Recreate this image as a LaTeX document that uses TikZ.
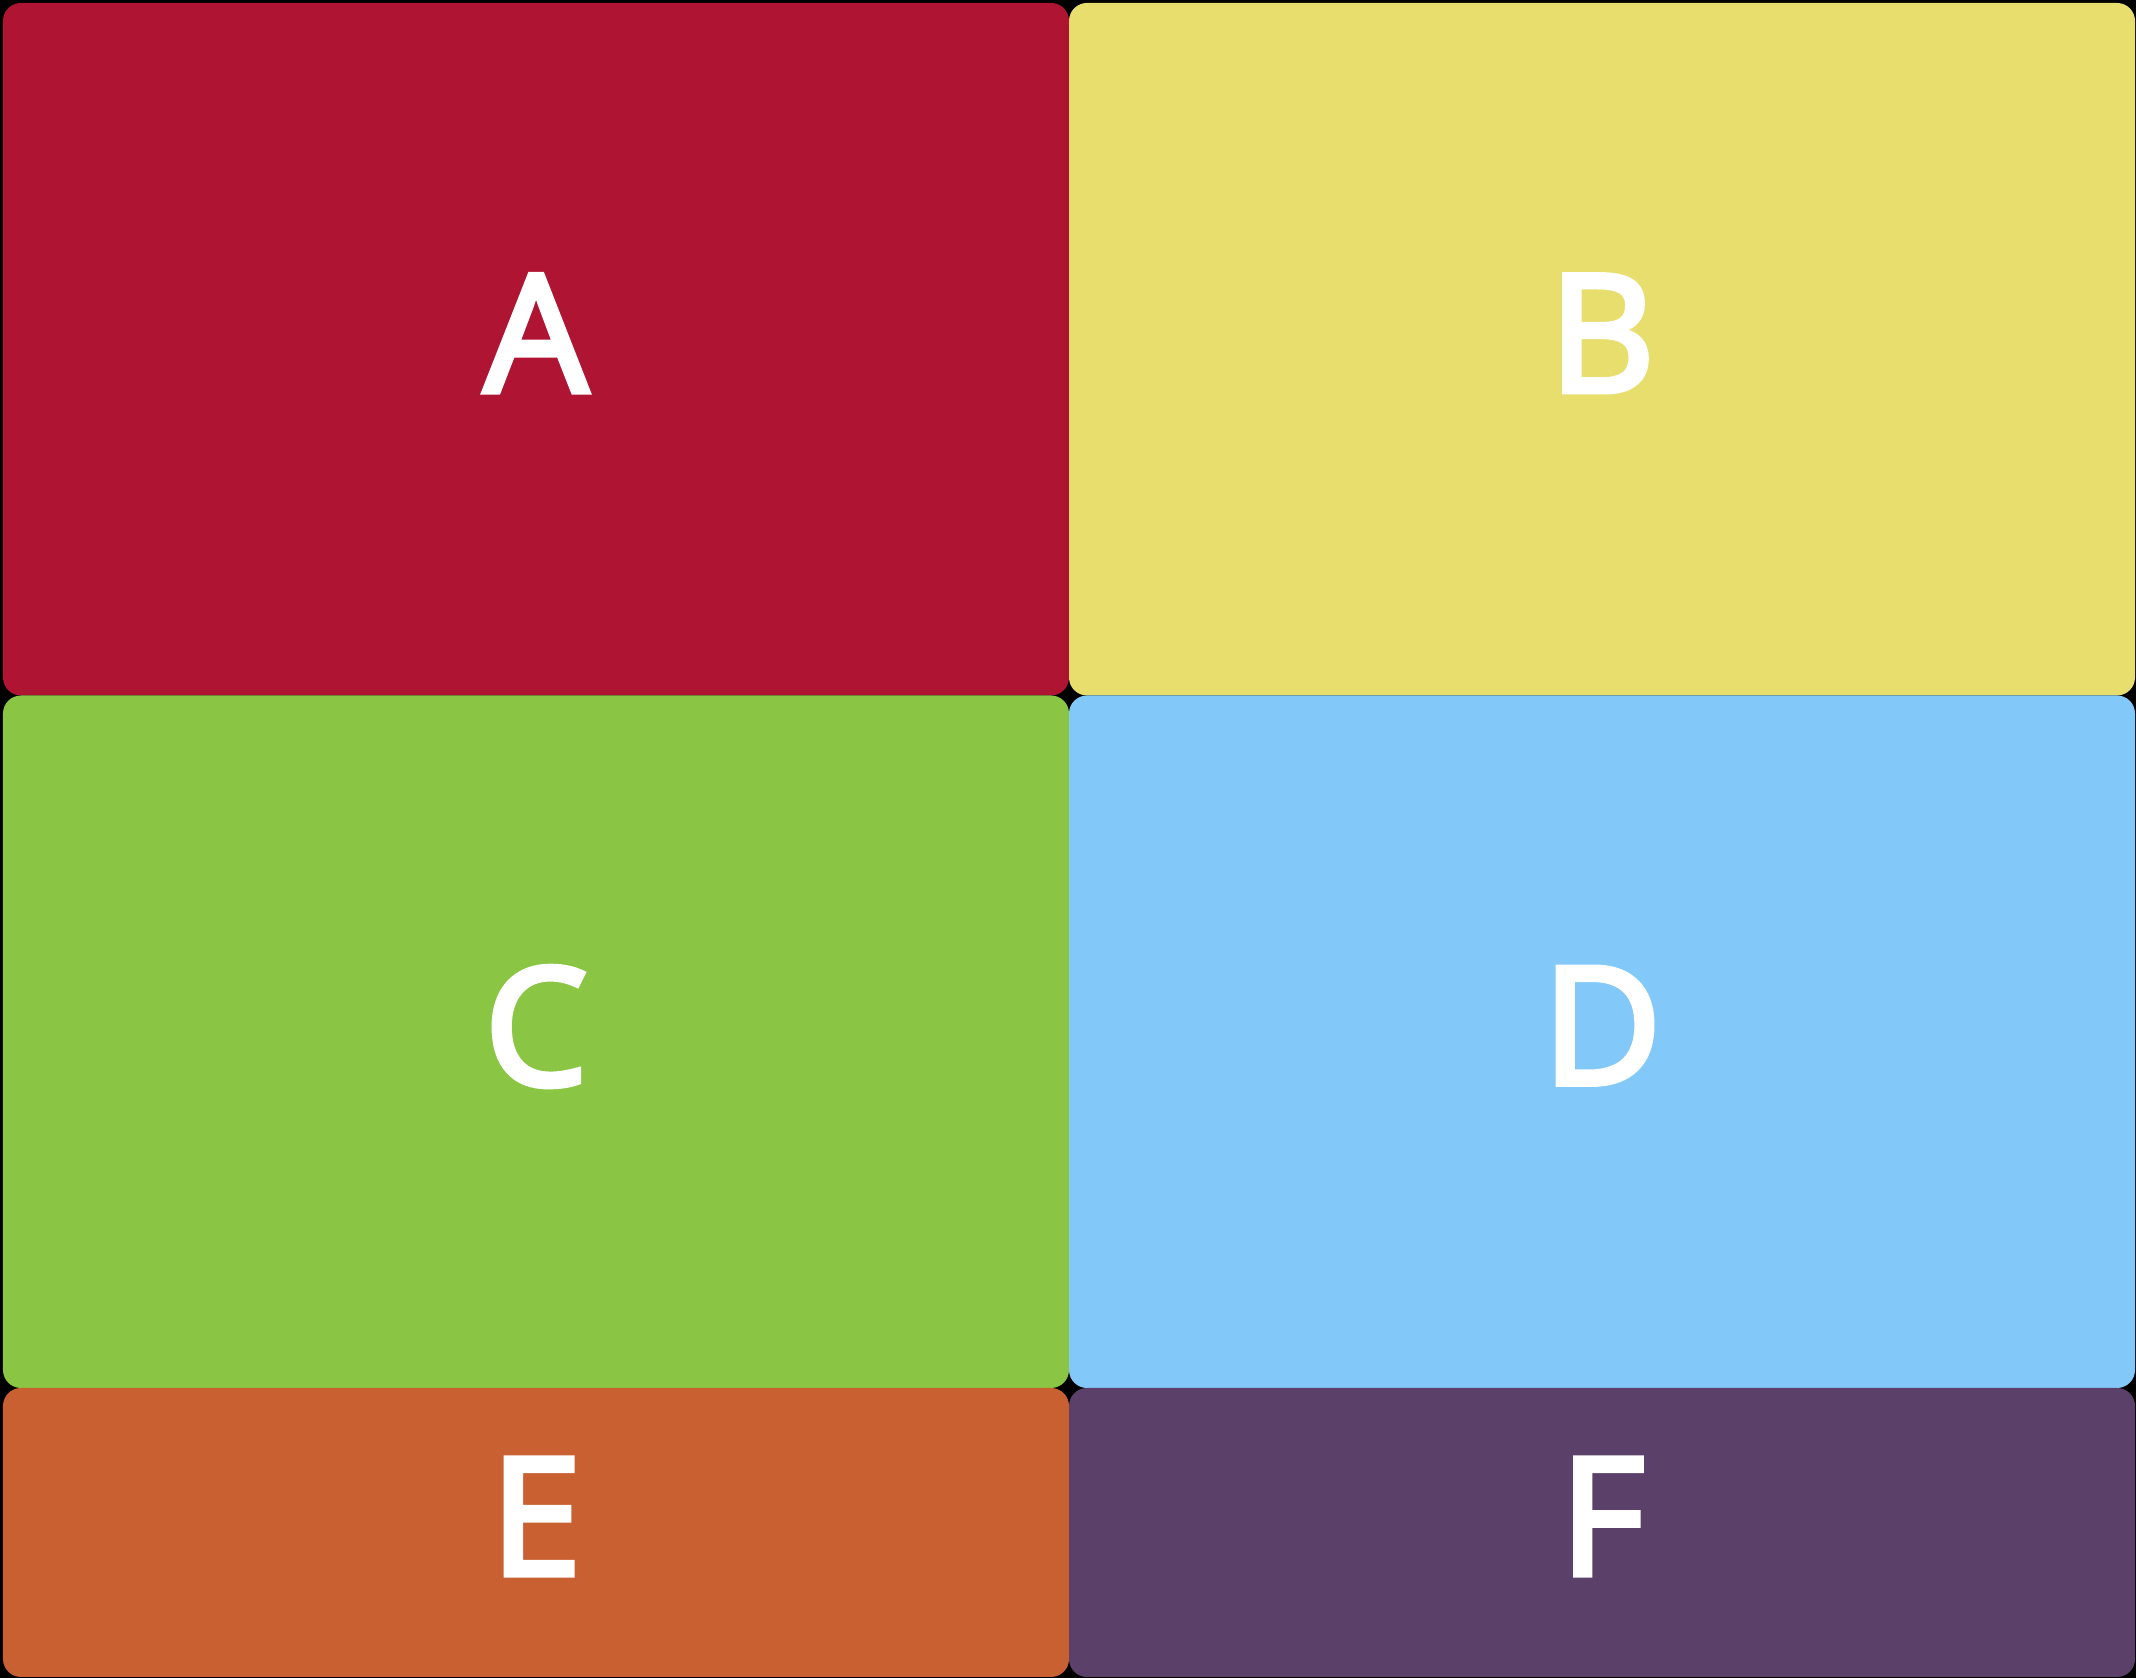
\documentclass[tikz,border=0pt]{standalone}
\usepackage{fontspec}
\newfontfamily\tilefont{Open Sans}[FakeBold=3.5]
\usepackage{xcolor}
\usetikzlibrary{positioning}
\definecolor{tileRed}{HTML}{AF1432}
\definecolor{tileYellow}{HTML}{E8DE6E}
\definecolor{tileGreen}{HTML}{8AC644}
\definecolor{tileBlue}{HTML}{82C8F8}
\definecolor{tileOrange}{HTML}{C86032}
\definecolor{tilePurple}{HTML}{5B4169}
\tikzset{
  tile/.style={rounded corners=1.8mm, inner sep=0pt, outer sep=0pt, minimum width=106.6mm,
    text=white, font=\fontsize{46.5}{52}\tilefont, text depth=3.2mm},
  tall/.style={tile, minimum height=69.25mm},
  short/.style={tile, minimum height=28.9mm}
}

\begin{document}
\begin{tikzpicture}[node distance=0mm]
    \fill[black] (0,0) rectangle (21.36,16.78);
    \useasboundingbox (0,0) rectangle (21.36,16.78);
    \node[tall, fill=tileRed, anchor=north west] (tileA) at (0.03,16.75) {A};
    \node[tall, fill=tileYellow, right=of tileA] (tileB) {B};
    \node[tall, fill=tileGreen, below=of tileA] (tileC) {C};
    \node[tall, fill=tileBlue, right=of tileC] (tileD) {D};
    \node[short, fill=tileOrange, below=of tileC] (tileE) {E};
    \node[short, fill=tilePurple, right=of tileE] (tileF) {F};
\end{tikzpicture}
\end{document}
